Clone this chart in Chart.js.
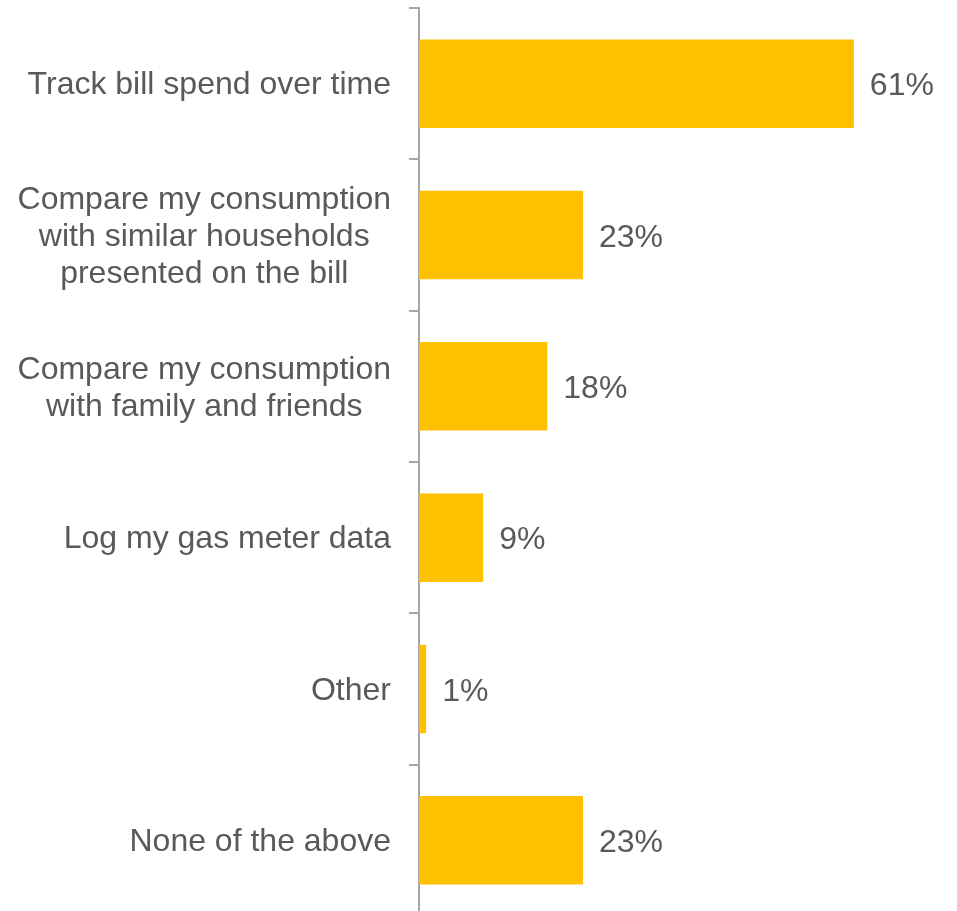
<!DOCTYPE html>
<html>
<head>
<meta charset="utf-8">
<script src="https://cdn.jsdelivr.net/npm/chart.js@4/dist/chart.umd.min.js"></script>
<style>
  html, body { margin: 0; padding: 0; background: #ffffff; overflow: hidden; }
  #wrap { width: 957px; height: 920px; }
</style>
</head>
<body>
<div id="wrap"><canvas id="c" width="957" height="920"></canvas></div>
<script>
// Survey answers and share of respondents (%)
const categories = [
  'Track bill spend over time',
  ['Compare my consumption', 'with similar households', 'presented on the bill'],
  ['Compare my consumption', 'with family and friends'],
  'Log my gas meter data',
  'Other',
  'None of the above'
];
const shares = [61, 23, 18, 9, 1, 23];

const textColor = '#595959';
const axisColor = '#A6A6A6';
const fontFamily = '"Liberation Sans", Arial, sans-serif';
const font = '32px ' + fontFamily;
const lineStep = 37;

// Category names: each block sits flush against the axis,
// with its lines centred on one another
const categoryLabels = {
  id: 'categoryLabels',
  afterDraw(chart) {
    const ctx = chart.ctx;
    const yScale = chart.scales.y;
    const right = yScale.right - 28;
    ctx.save();
    ctx.font = font;
    ctx.fillStyle = textColor;
    ctx.textAlign = 'center';
    ctx.textBaseline = 'middle';
    categories.forEach((label, i) => {
      const lines = Array.isArray(label) ? label : [label];
      const widest = Math.max(...lines.map(l => ctx.measureText(l).width));
      const cx = right - widest / 2;
      const cy = yScale.getPixelForTick(i) + 2;
      const top = cy - (lines.length - 1) * lineStep / 2;
      lines.forEach((l, k) => ctx.fillText(l, cx, top + k * lineStep));
    });
    ctx.restore();
  }
};

// Writes each bar's value just past its end
const valueLabels = {
  id: 'valueLabels',
  afterDatasetsDraw(chart) {
    const ctx = chart.ctx;
    const meta = chart.getDatasetMeta(0);
    ctx.save();
    ctx.font = font;
    ctx.fillStyle = textColor;
    ctx.textAlign = 'left';
    ctx.textBaseline = 'middle';
    meta.data.forEach((bar, i) => {
      ctx.fillText(shares[i] + '%', bar.x + 16, bar.y + 3);
    });
    ctx.restore();
  }
};

new Chart(document.getElementById('c'), {
  type: 'bar',
  data: {
    labels: categories,
    datasets: [{
      data: shares,
      backgroundColor: '#FFC000',
      borderWidth: 0,
      categoryPercentage: 1,
      barPercentage: 0.585
    }]
  },
  options: {
    indexAxis: 'y',
    responsive: false,
    animation: false,
    layout: { padding: { top: 8, right: 39, bottom: 4, left: 0 } },
    plugins: {
      legend: { display: false },
      tooltip: { enabled: false }
    },
    scales: {
      x: {
        display: false,
        min: 0,
        max: 70
      },
      y: {
        afterFit(scale) {
          scale.width = 419;
          scale.paddingTop = 0;
          scale.paddingBottom = 0;
        },
        grid: {
          offset: true,
          drawOnChartArea: false,
          drawTicks: true,
          tickLength: 10,
          color: axisColor,
          lineWidth: 2
        },
        border: { display: true, color: axisColor, width: 2 },
        ticks: { display: false }
      }
    }
  },
  plugins: [valueLabels, categoryLabels]
});
</script>
</body>
</html>
